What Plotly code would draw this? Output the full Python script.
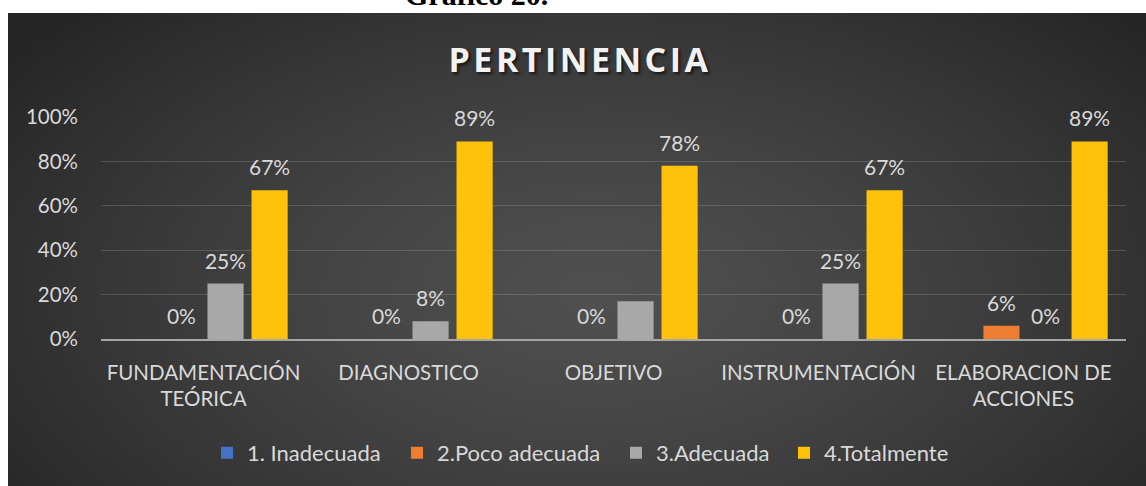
import base64
import struct
import zlib

import numpy as np
import plotly.graph_objects as go

# ---------------- data ----------------
categories = ["FUNDAMENTACIÓN TEÓRICA", "DIAGNOSTICO", "OBJETIVO",
              "INSTRUMENTACIÓN", "ELABORACION DE ACCIONES"]
tick_labels = ["FUNDAMENTACIÓN<br>TEÓRICA", "DIAGNOSTICO", "OBJETIVO",
               "INSTRUMENTACIÓN", "ELABORACION DE<br>ACCIONES"]

series_names = ["1. Inadecuada", "2.Poco adecuada", "3.Adecuada", "4.Totalmente"]
inadecuada = [0.0, 0.0, 0.0, 0.0, 0.0]
poco_adecuada = [0.0, 0.0, 0.0, 0.0, 0.06]
adecuada = [0.25, 0.08, 0.17, 0.25, 0.0]
totalmente = [0.67, 0.89, 0.78, 0.67, 0.89]

# which data labels are shown in the original chart
show_inadecuada = [False, False, False, False, False]
show_poco = [True, True, True, True, True]
show_adecuada = [True, True, False, True, True]
show_totalmente = [True, True, True, True, True]

series_colors = ["#4472C4", "#ED7D31", "#A8A8A8", "#FFC20A"]

y_ticks = [0, 0.2, 0.4, 0.6, 0.8, 1.0]
y_tick_labels = ["0%", "20%", "40%", "60%", "80%", "100%"]

title_text = "PERTINENCIA"
caption_text = "Gráfico 20."

# ---------------- geometry ----------------
W, H = 1146, 486
bg_left, bg_top = 8, 12
margin_l, margin_r, margin_t, margin_b = 101, 20, 117, 145
plot_w = W - margin_l - margin_r
plot_h = H - margin_t - margin_b
legend_left_px = [207, 397, 616, 784]   # left edge of each legend box
legend_mid_px = 456


def px_x(px):
    return (px - margin_l) / plot_w


def px_y(py):
    return (H - margin_b - py) / plot_h


def make_png(arr):
    h, w, _ = arr.shape
    raw = b"".join(b"\x00" + arr[r].tobytes() for r in range(h))

    def chunk(tag, data):
        return (struct.pack(">I", len(data)) + tag + data +
                struct.pack(">I", zlib.crc32(tag + data) & 0xFFFFFFFF))

    png = (b"\x89PNG\r\n\x1a\n" +
           chunk(b"IHDR", struct.pack(">IIBBBBB", w, h, 8, 2, 0, 0, 0)) +
           chunk(b"IDAT", zlib.compress(raw, 9)) +
           chunk(b"IEND", b""))
    return "data:image/png;base64," + base64.b64encode(png).decode()


# dark radial-gradient panel (chart style background)
gw, gh = 285, 118
u = np.linspace(0, 1, gw)[None, :]
v = np.linspace(0, 1, gh)[:, None]
r = np.sqrt(((u - 0.5) / 0.62) ** 2 + ((v - 0.55) / 0.8) ** 2)
r = np.clip(r, 0, 1)
val = 38 + (80 - 38) * (1 - r ** 1.3)
img = np.repeat(val[:, :, None], 3, axis=2).astype(np.uint8)
bg_src = make_png(img)

# ---------------- figure ----------------
axis_font = dict(family="Lato, Calibri, sans-serif", size=20.5, color="#D9D9D9")
legend_font = dict(family="Lato, Calibri, sans-serif", size=22, color="#D9D9D9")
value_font = dict(family="Lato, Calibri, sans-serif", size=21, color="#D9D9D9")


def labels(values, show):
    return [f"{val:.0%}" if s else "" for val, s in zip(values, show)]


all_values = [inadecuada, poco_adecuada, adecuada, totalmente]
all_shows = [show_inadecuada, show_poco, show_adecuada, show_totalmente]
legend_ids = ["legend", "legend2", "legend3", "legend4"]

fig = go.Figure()
for i, (name, vals, col) in enumerate(zip(series_names, all_values, series_colors)):
    fig.add_trace(go.Bar(
        name=name, x=categories, y=vals,
        marker=dict(color=col, line=dict(width=0)),
        hoverinfo="skip", offsetgroup=str(i), alignmentgroup="bars",
        legend=legend_ids[i],
    ))

# data labels, grouped to sit over their bars
for i, (vals, show) in enumerate(zip(all_values, all_shows)):
    fig.add_trace(go.Scatter(
        x=categories, y=vals, text=labels(vals, show),
        mode="markers+text", textposition="top center",
        marker=dict(size=14, color="rgba(0,0,0,0)"),
        textfont=value_font, cliponaxis=False, showlegend=False,
        hoverinfo="skip", offsetgroup=str(i), alignmentgroup="labels",
    ))

legend_common = dict(
    orientation="h", xanchor="left", yanchor="middle", font=legend_font,
    bgcolor="rgba(0,0,0,0)", itemclick=False, itemdoubleclick=False,
    borderwidth=0,
)
legend_layouts = {
    lid: dict(legend_common, x=px_x(lx), y=px_y(legend_mid_px))
    for lid, lx in zip(legend_ids, legend_left_px)
}

fig.update_layout(
    width=W, height=H,
    margin=dict(l=margin_l, r=margin_r, t=margin_t, b=margin_b),
    paper_bgcolor="#262626",
    plot_bgcolor="rgba(0,0,0,0)",
    barmode="group", bargap=0.14, bargroupgap=0.18,
    scattermode="group", scattergap=0.14,
    font=axis_font,
    title=dict(
        text=f'<span style="letter-spacing:3.5px">{title_text}</span>',
        x=580 / W, y=1 - 60 / H, xanchor="center", yanchor="middle",
        font=dict(family="Open Sans, sans-serif", size=34, color="#F2F2F2",
                  weight="bold", shadow="2px 2px 3px rgba(0,0,0,0.65)"),
    ),
    xaxis=dict(
        tickmode="array", tickvals=categories, ticktext=tick_labels,
        showgrid=False, showline=True, linecolor="#A6A6A6", linewidth=2,
        ticks="", ticklabelstandoff=14, tickfont=axis_font,
    ),
    yaxis=dict(
        range=[0, 1], tickvals=y_ticks, ticktext=y_tick_labels,
        showgrid=True, gridcolor="rgba(150,150,150,0.35)", gridwidth=1,
        zeroline=False, showline=False, ticks="", ticklabelstandoff=22,
        tickfont=axis_font, fixedrange=True,
    ),
    showlegend=True,
    images=[dict(
        source=bg_src, xref="paper", yref="paper",
        x=px_x(bg_left), y=px_y(bg_top),
        sizex=(W - bg_left + 40) / plot_w, sizey=(H - bg_top + 40) / plot_h,
        xanchor="left", yanchor="top", sizing="stretch", layer="below",
    )],
    shapes=[
        # white page strips above and left of the chart panel
        dict(type="rect", xref="paper", yref="paper", layer="below",
             x0=px_x(-20), x1=px_x(W + 20), y0=px_y(bg_top), y1=px_y(-20),
             fillcolor="white", line=dict(width=0)),
        dict(type="rect", xref="paper", yref="paper", layer="below",
             x0=px_x(-20), x1=px_x(bg_left), y0=px_y(H + 20), y1=px_y(-20),
             fillcolor="white", line=dict(width=0)),
    ],
    annotations=[dict(
        text=f"<b>{caption_text}</b>", xref="paper", yref="paper",
        x=px_x(403), y=px_y(12),
        xanchor="left", yanchor="bottom", showarrow=False,
        font=dict(family="Liberation Serif, Times New Roman, serif", size=30,
                  color="black"),
    )],
    **legend_layouts,
)

fig.write_html(
    "out.html",
    config={"displayModeBar": False},
    post_script=("document.body.style.margin='0';"
                 "document.documentElement.style.overflow='hidden';"),
)
